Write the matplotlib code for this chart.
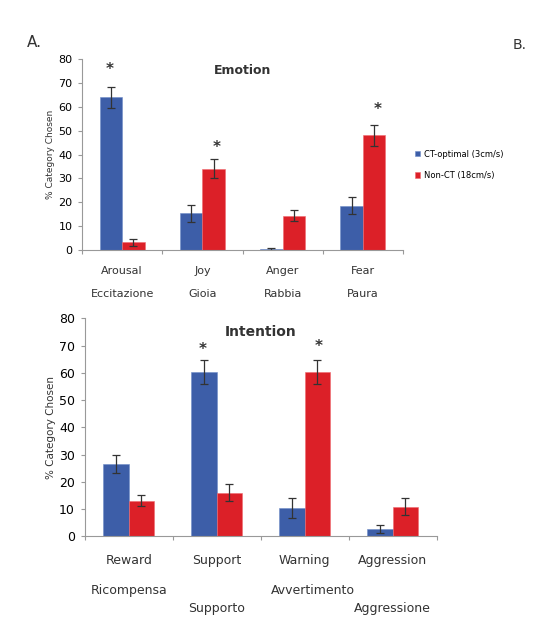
import matplotlib.pyplot as plt
import matplotlib.transforms as mtransforms
import numpy as np

# Emotion panel data
emo_en = ["Arousal", "Joy", "Anger", "Fear"]
emo_it = ["Eccitazione", "Gioia", "Rabbia", "Paura"]
emo_ct = [64, 15.4, 0.5, 18.6]
emo_ct_err = [4.5, 3.5, 0.5, 3.7]
emo_nct = [3.2, 34, 14.3, 48]
emo_nct_err = [1.5, 4, 2.3, 4.4]
emo_star = [75.5, 43, None, 59]
emo_star_x = [-0.16, 0.18, None, 0.18]

# Intention panel data
int_en = ["Reward", "Support", "Warning", "Aggression"]
int_it = ["Ricompensa", "Supporto", "Avvertimento", "Aggressione"]
int_ct = [26.5, 60.3, 10.4, 2.6]
int_ct_err = [3.3, 4.4, 3.6, 1.4]
int_nct = [13, 16, 60.3, 10.8]
int_nct_err = [2, 3, 4.4, 3.2]
int_star = [None, 68.6, 69.6, None]
int_star_x = [None, -0.16, 0.16, None]

blue = "#3d5ea8"
red = "#dc2028"
gray = "#999999"

fig = plt.figure(figsize=(5.33, 6.22), dpi=100)
fig.patch.set_facecolor("white")


def draw_panel(ax, ct, ct_err, nct, nct_err, stars, star_x, title, bw, fs):
    x = np.arange(len(ct))
    ax.bar(x - bw / 2, ct, bw, color=blue, edgecolor="#6f8cc8", linewidth=0.4,
           yerr=ct_err, error_kw=dict(ecolor="#333333", elinewidth=0.9, capsize=3, capthick=0.9),
           label="CT-optimal (3cm/s)")
    ax.bar(x + bw / 2, nct, bw, color=red, edgecolor="#f06a70", linewidth=0.4,
           yerr=nct_err, error_kw=dict(ecolor="#333333", elinewidth=0.9, capsize=3, capthick=0.9),
           label="Non-CT (18cm/s)")
    for i, s in enumerate(stars):
        if s is not None:
            ax.text(i + star_x[i], s, "*", ha="center", va="center", fontsize=11,
                    fontweight="bold", color="#333333")
    ax.set_xlim(-0.5, len(ct) - 0.5)
    ax.set_ylim(0, 80)
    ax.set_yticks(range(0, 81, 10))
    ax.set_xticks(np.arange(len(ct) + 1) - 0.5)
    ax.set_xticklabels([])
    ax.tick_params(axis="x", direction="out", length=3, color=gray)
    ax.tick_params(axis="y", direction="out", length=3, color=gray, labelsize=fs, pad=4)
    for sp in ["top", "right"]:
        ax.spines[sp].set_visible(False)
    for sp in ["left", "bottom"]:
        ax.spines[sp].set_color(gray)
        ax.spines[sp].set_linewidth(0.8)
    ax.text(0.5, 0.94, title, transform=ax.transAxes, ha="center", va="center",
            fontsize=fs + 1, fontweight="bold", color="#333333")
    ax.set_ylabel("% Category Chosen", fontsize=fs - 1.5, color="#333333", labelpad=2)


# Top panel
ax1 = fig.add_axes([0.154, 0.598, 0.602, 0.307])
draw_panel(ax1, emo_ct, emo_ct_err, emo_nct, emo_nct_err, emo_star, emo_star_x,
           "Emotion", 0.28, 8)
tr1 = mtransforms.blended_transform_factory(ax1.transData, ax1.transAxes)
for i in range(len(emo_en)):
    ax1.text(i, -0.11, emo_en[i], transform=tr1, ha="center", va="center", fontsize=8, color="#333333")
    ax1.text(i, -0.23, emo_it[i], transform=tr1, ha="center", va="center", fontsize=8, color="#333333")

fig.legend(*ax1.get_legend_handles_labels(), loc="center left", bbox_to_anchor=(0.765, 0.735),
           frameon=False, fontsize=6, handlelength=0.6, handleheight=0.6,
           handletextpad=0.4, labelspacing=1.5)

fig.text(0.065, 0.932, "A.", fontsize=11, color="#333333", ha="center", va="center")
fig.text(0.975, 0.928, "B.", fontsize=10, color="#333333", ha="center", va="center")

# Bottom panel
ax2 = fig.add_axes([0.159, 0.138, 0.660, 0.350])
draw_panel(ax2, int_ct, int_ct_err, int_nct, int_nct_err, int_star, int_star_x,
           "Intention", 0.29, 9)
tr2 = mtransforms.blended_transform_factory(ax2.transData, ax2.transAxes)
it_y = [-0.25, -0.33, -0.25, -0.33]
it_dx = [0.0, 0.0, 0.09, 0.0]
for i in range(len(int_en)):
    ax2.text(i, -0.11, int_en[i], transform=tr2, ha="center", va="center", fontsize=9, color="#333333")
    ax2.text(i + it_dx[i], it_y[i], int_it[i], transform=tr2, ha="center", va="center",
             fontsize=9, color="#333333")

fig.savefig("out.png", dpi=100)
